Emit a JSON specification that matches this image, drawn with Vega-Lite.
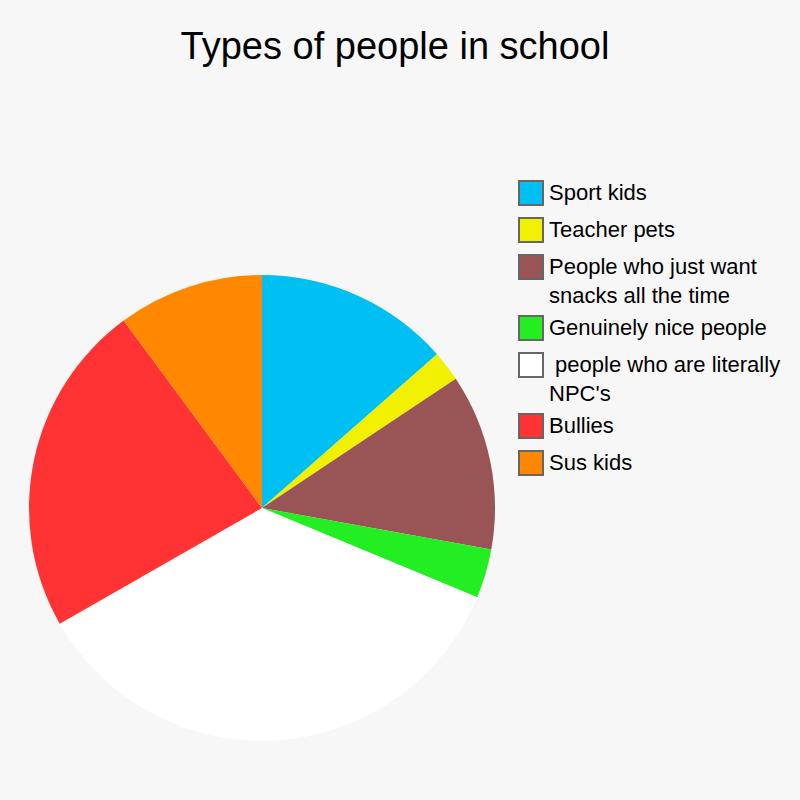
{
  "$schema": "https://vega.github.io/schema/vega-lite/v6.json",
  "width": 466,
  "height": 466,
  "autosize": {"type": "none"},
  "padding": {"left": 29, "top": 275, "right": 305, "bottom": 59},
  "background": "#f7f7f7",
  "title": {
    "text": "Types of people in school",
    "fontSize": 38,
    "font": "Liberation Sans",
    "fontWeight": "normal",
    "color": "#000000",
    "anchor": "middle",
    "dx": 133,
    "offset": 113
  },
  "data": {
    "values": [
      {"i": 1, "type": "Sport kids", "value": 13.5},
      {"i": 2, "type": "Teacher pets", "value": 2.1},
      {"i": 3, "type": "People who just want snacks all the time", "value": 12.2},
      {"i": 4, "type": "Genuinely nice people", "value": 3.4},
      {"i": 5, "type": " people who are literally NPC's", "value": 35.4},
      {"i": 6, "type": "Bullies", "value": 23.1},
      {"i": 7, "type": "Sus kids", "value": 10.1}
    ]
  },
  "mark": {"type": "arc"},
  "encoding": {
    "theta": {"field": "value", "type": "quantitative", "stack": true},
    "order": {"field": "i", "type": "quantitative"},
    "color": {
      "field": "type",
      "type": "nominal",
      "scale": {
        "domain": ["Sport kids", "Teacher pets", "People who just want snacks all the time", "Genuinely nice people", " people who are literally NPC's", "Bullies", "Sus kids"],
        "range": ["#00bff3", "#f0f000", "#995555", "#22ee22", "#ffffff", "#ff3333", "#ff8800"]
      },
      "legend": {
        "title": null,
        "orient": "none",
        "legendX": 489,
        "legendY": -95,
        "padding": 0,
        "symbolType": "square",
        "symbolSize": 576,
        "symbolStrokeColor": "#666666",
        "symbolStrokeWidth": 2,
        "labelFont": "Liberation Sans",
        "labelFontSize": 22,
        "labelColor": "#000000",
        "labelOffset": 5,
        "labelLimit": 400,
        "rowPadding": 5,
        "encode": {"labels": {"update": {"lineHeight": {"value": 29}}}},
        "labelExpr": "datum.label == 'People who just want snacks all the time' ? ['People who just want', 'snacks all the time'] : datum.label == \" people who are literally NPC's\" ? [\"\u200b\u00a0people who are literally\", \"NPC's\"] : datum.label"
      }
    }
  },
  "config": {"view": {"stroke": null}}
}
